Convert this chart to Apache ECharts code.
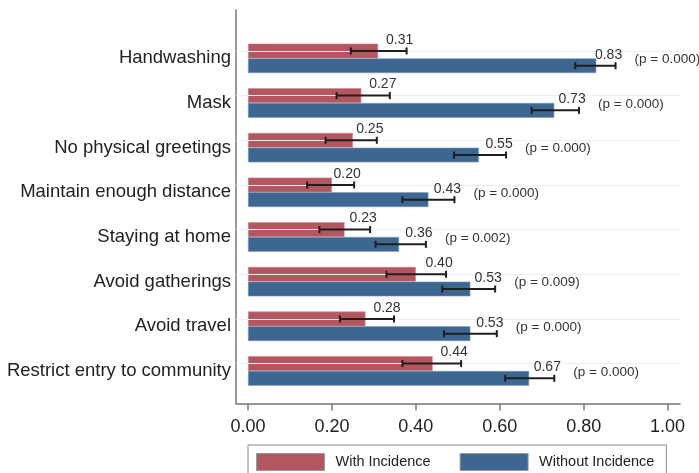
<!DOCTYPE html>
<html>
<head>
<meta charset="utf-8">
<script src="https://cdn.jsdelivr.net/npm/echarts@6/dist/echarts.min.js"></script>
<style>html,body{margin:0;padding:0;background:#fff}#c{width:699px;height:473px}</style>
</head>
<body>
<div id="c"></div>
<script>
var categories = ['Handwashing','Mask','No physical greetings','Maintain enough distance','Staying at home','Avoid gatherings','Avoid travel','Restrict entry to community'];
var withInc = [0.31,0.27,0.25,0.20,0.23,0.40,0.28,0.44];
var withoutInc = [0.83,0.73,0.55,0.43,0.36,0.53,0.53,0.67];
var withLow = [0.245,0.211,0.185,0.141,0.170,0.330,0.219,0.368];
var withHigh = [0.378,0.338,0.307,0.253,0.291,0.472,0.348,0.508];
var withoutLow = [0.780,0.676,0.491,0.368,0.304,0.463,0.467,0.613];
var withoutHigh = [0.876,0.789,0.615,0.492,0.424,0.589,0.593,0.730];
var pLabels = ['(p = 0.000)','(p = 0.000)','(p = 0.000)','(p = 0.000)','(p = 0.002)','(p = 0.009)','(p = 0.000)','(p = 0.000)'];
var tickValues = [0,0.2,0.4,0.6,0.8,1.0];

var FONT = '"Liberation Sans", Arial, sans-serif';
var RED = '#b3565f', BLUE = '#3d6690';
var CAT_GAP = 0.34;

function errData(low, high, mean) {
  return categories.map(function (c, i) { return [i, low[i], high[i], mean[i]]; });
}
function makeErr(side) {
  return function (params, api) {
    var idx = api.value(0);
    var lo = api.coord([api.value(1), idx]);
    var hi = api.coord([api.value(2), idx]);
    var bandH = api.size([0, 1])[1];
    var barW = bandH * (1 - CAT_GAP) / 2;
    var y = lo[1] + side * barW / 2;
    var cap = 3.5;
    var st = { stroke: '#1e1e1e', lineWidth: 2 };
    return {
      type: 'group',
      children: [
        { type: 'line', shape: { x1: lo[0], y1: y, x2: hi[0], y2: y }, style: st },
        { type: 'line', shape: { x1: lo[0], y1: y - cap, x2: lo[0], y2: y + cap }, style: st },
        { type: 'line', shape: { x1: hi[0], y1: y - cap, x2: hi[0], y2: y + cap }, style: st },
        { type: 'text', x: hi[0] - 7, y: y - 11,
          style: { text: api.value(3).toFixed(2), fontSize: 14, fontFamily: FONT, fill: '#333', align: 'center', verticalAlign: 'middle' } }
      ]
    };
  };
}

var chart = echarts.init(document.getElementById('c'), null, { renderer: 'canvas' });
chart.setOption({
  animation: false,
  backgroundColor: '#fff',
  textStyle: { fontFamily: FONT },
  grid: [
    { left: 236, right: 19, top: 36, bottom: 79.7 },
    { left: 236, right: 19, top: 10, bottom: 69.5 }
  ],
  legend: {
    left: 248, top: 445,
    padding: [8, 12, 8, 8],
    itemWidth: 68, itemHeight: 17, itemGap: 29,
    borderColor: '#888', borderWidth: 1,
    icon: 'rect',
    itemStyle: { borderColor: '#999', borderWidth: 1 },
    textStyle: { fontSize: 14.5, color: '#222', fontFamily: FONT, padding: [0, 0, 0, 6] },
    data: ['With Incidence', 'Without Incidence']
  },
  xAxis: [
    { gridIndex: 0, type: 'value', min: -0.0286, max: 1.0296, show: false, splitLine: { show: false } },
    { gridIndex: 1, type: 'value', min: -0.0286, max: 1.0296,
      axisLine: { show: true, onZero: false, lineStyle: { color: '#777', width: 1.5 } },
      axisTick: { show: true, customValues: tickValues, length: 7, lineStyle: { color: '#777', width: 1.5 } },
      axisLabel: { show: true, customValues: tickValues, fontSize: 18, color: '#222', margin: 15,
        formatter: function (v) { return v.toFixed(2); } },
      splitLine: { show: false } }
  ],
  yAxis: [
    { gridIndex: 0, type: 'category', data: categories, inverse: true,
      axisLine: { show: false }, axisTick: { show: false },
      axisLabel: { fontSize: 18.5, color: '#222', margin: 5 },
      splitLine: { show: false } },
    { gridIndex: 1, type: 'value', min: 0, max: 1,
      axisLine: { show: true, onZero: false, lineStyle: { color: '#777', width: 1.5 } },
      axisTick: { show: false }, axisLabel: { show: false }, splitLine: { show: false } }
  ],
  series: [
    { name: 'With Incidence', type: 'bar', xAxisIndex: 0, yAxisIndex: 0, data: withInc,
      barGap: '0%', barCategoryGap: (CAT_GAP * 100) + '%',
      itemStyle: { color: RED, borderColor: '#c98a90', borderWidth: 0.6 },
      markLine: { silent: true, symbol: 'none', label: { show: false },
        lineStyle: { color: '#eeeeee', width: 1, type: 'solid' },
        data: categories.map(function (c) { return { yAxis: c }; }) } },
    { name: 'Without Incidence', type: 'bar', xAxisIndex: 0, yAxisIndex: 0, data: withoutInc,
      barGap: '0%', barCategoryGap: (CAT_GAP * 100) + '%',
      itemStyle: { color: BLUE, borderColor: '#7f9bb8', borderWidth: 0.6 } },
    { type: 'custom', xAxisIndex: 0, yAxisIndex: 0, renderItem: makeErr(-1),
      data: errData(withLow, withHigh, withInc), encode: { x: [1, 2], y: 0 }, z: 5 },
    { type: 'custom', xAxisIndex: 0, yAxisIndex: 0, renderItem: makeErr(1),
      data: errData(withoutLow, withoutHigh, withoutInc), encode: { x: [1, 2], y: 0 }, z: 5 },
    { type: 'custom', xAxisIndex: 0, yAxisIndex: 0, z: 5,
      data: categories.map(function (c, i) { return [i, withoutHigh[i]]; }),
      encode: { x: 1, y: 0 },
      renderItem: function (params, api) {
        var p = api.coord([api.value(1), api.value(0)]);
        return { type: 'text', x: p[0] + 19, y: p[1] + 1,
          style: { text: pLabels[params.dataIndex], fontSize: 13.5, fontFamily: FONT, fill: '#333', align: 'left', verticalAlign: 'middle' } };
      } }
  ]
});
</script>
</body>
</html>
